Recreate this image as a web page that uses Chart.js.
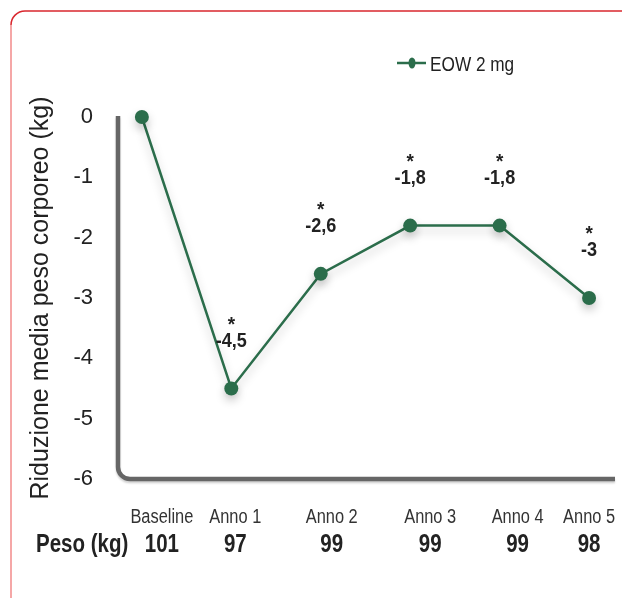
<!DOCTYPE html>
<html>
<head>
<meta charset="utf-8">
<script src="https://cdn.jsdelivr.net/npm/chart.js@4.4.1/dist/chart.umd.min.js"></script>
<style>
  html, body { margin: 0; padding: 0; background: #fff; }
  canvas { display: block; }
</style>
</head>
<body>
<canvas id="chart" width="622" height="598"></canvas>
<script>
// Series data
const categories = ['Baseline', 'Anno 1', 'Anno 2', 'Anno 3', 'Anno 4', 'Anno 5'];
const weightLoss = [0, -4.5, -2.6, -1.8, -1.8, -3];
const bodyWeight = [101, 97, 99, 99, 99, 98];
const significant = [false, true, true, true, true, true];
const yTicks = [0, -1, -2, -3, -4, -5, -6];
const seriesName = 'EOW 2 mg';
const weightRowTitle = 'Peso (kg)';
const yTitle = 'Riduzione media peso corporeo (kg)';

const FONT = '"Liberation Sans", Arial, Helvetica, sans-serif';
const GREEN = '#2b6d4b';
const AXIS_GRAY = '#666666';
const TEXT = '#222222';

Chart.defaults.font.family = FONT;

const fmt = v => String(v).replace('.', ',');

// condensed text: draw with a horizontal squeeze around the anchor point
function squeezed(ctx, text, x, y, font, align, sx) {
  ctx.save();
  ctx.translate(x, y);
  ctx.scale(sx, 1);
  ctx.font = font;
  ctx.textAlign = align;
  ctx.textBaseline = 'alphabetic';
  ctx.fillText(text, 0, 0);
  ctx.restore();
}

// Frame, L-shaped axis, value labels, legend and the two label rows under the plot
const decor = {
  id: 'decor',
  beforeDraw(chart) {
    const ctx = chart.ctx;
    ctx.save();
    ctx.lineWidth = 1.5;
    ctx.strokeStyle = '#d9272e';
    ctx.beginPath();
    ctx.moveTo(11, 25);
    ctx.arcTo(11, 11, 25, 11, 14);
    ctx.lineTo(622, 11);
    ctx.stroke();
    ctx.strokeStyle = '#f28a8a';
    ctx.beginPath();
    ctx.moveTo(11, 25);
    ctx.lineTo(11, 598);
    ctx.stroke();
    ctx.restore();
  },
  beforeDatasetsDraw(chart) {
    const ctx = chart.ctx;
    const a = chart.chartArea;
    const x0 = a.left + 1, y0 = a.bottom;
    ctx.save();
    ctx.strokeStyle = AXIS_GRAY;
    ctx.lineWidth = 4.5;
    ctx.shadowColor = 'rgba(0,0,0,0.18)';
    ctx.shadowBlur = 2;
    ctx.shadowOffsetY = 2;
    ctx.beginPath();
    ctx.moveTo(x0, a.top - 1);
    ctx.lineTo(x0, y0 - 12);
    ctx.arcTo(x0, y0, x0 + 12, y0, 12);
    ctx.lineTo(a.right, y0);
    ctx.stroke();
    ctx.restore();

    // soft shadow beneath the series line
    ctx.save();
    ctx.shadowColor = 'rgba(0,0,0,0.22)';
    ctx.shadowBlur = 10;
    ctx.shadowOffsetY = 5;
  },
  afterDatasetsDraw(chart, args, opts) {
    const ctx = chart.ctx;
    ctx.restore();
    const xs = chart.scales.x, ys = chart.scales.y;

    ctx.save();
    ctx.fillStyle = TEXT;

    // value labels with significance markers
    weightLoss.forEach((v, i) => {
      if (i === 0) return;
      const px = xs.getPixelForValue(i);
      const py = ys.getPixelForValue(v);
      squeezed(ctx, fmt(v), px, py - 42, 'bold 21px ' + FONT, 'center', 0.86);
      if (significant[i]) squeezed(ctx, '*', px, py - 58, 'bold 21px ' + FONT, 'center', 0.9);
    });

    // legend
    const lx = 397, ly = 63;
    ctx.strokeStyle = GREEN;
    ctx.lineWidth = 2.5;
    ctx.beginPath();
    ctx.moveTo(lx, ly);
    ctx.lineTo(lx + 29, ly);
    ctx.stroke();
    ctx.fillStyle = GREEN;
    ctx.beginPath();
    ctx.ellipse(lx + 15, ly, 3.5, 5.5, 0, 0, Math.PI * 2);
    ctx.fill();
    ctx.fillStyle = TEXT;
    squeezed(ctx, seriesName, lx + 33, ly + 8, '21px ' + FONT, 'left', 0.82);

    // category row and body-weight row
    categories.forEach((c, i) => {
      const px = xs.getPixelForValue(i) + opts.labelShift[i];
      ctx.fillStyle = '#333';
      squeezed(ctx, c, px, 523, '20px ' + FONT, 'center', 0.82);
      ctx.fillStyle = TEXT;
      squeezed(ctx, String(bodyWeight[i]), px, 552, 'bold 25px ' + FONT, 'center', 0.82);
    });
    squeezed(ctx, weightRowTitle, 36, 552, 'bold 25px ' + FONT, 'left', 0.82);
    ctx.restore();
  }
};

new Chart(document.getElementById('chart'), {
  type: 'line',
  data: {
    datasets: [{
      label: seriesName,
      data: weightLoss.map((v, i) => ({ x: i, y: v })),
      borderColor: GREEN,
      backgroundColor: GREEN,
      borderWidth: 2.5,
      pointRadius: 7,
      pointHoverRadius: 7,
      pointBorderWidth: 0,
      tension: 0,
      clip: false
    }]
  },
  options: {
    responsive: false,
    animation: false,
    devicePixelRatio: 1,
    layout: { padding: { left: 0, right: 5, top: 117, bottom: 119 } },
    plugins: {
      legend: { display: false },
      tooltip: { enabled: false },
      decor: { labelShift: [20, 4, 11, 20, 18, 0] }
    },
    scales: {
      x: { type: 'linear', min: -0.278, max: 5.29, display: false },
      y: {
        min: -6,
        max: 0,
        afterFit(s) { s.width = 117; },
        afterBuildTicks(s) { s.ticks = yTicks.map(v => ({ value: v })); },
        grid: { display: false, drawTicks: false },
        border: { display: false },
        ticks: {
          padding: 24,
          color: TEXT,
          font: { size: 22 },
          callback: v => String(v)
        },
        title: {
          display: true,
          text: yTitle,
          color: TEXT,
          font: { size: 25 },
          padding: { top: 26, bottom: 0 }
        }
      }
    }
  },
  plugins: [decor]
});
</script>
</body>
</html>
